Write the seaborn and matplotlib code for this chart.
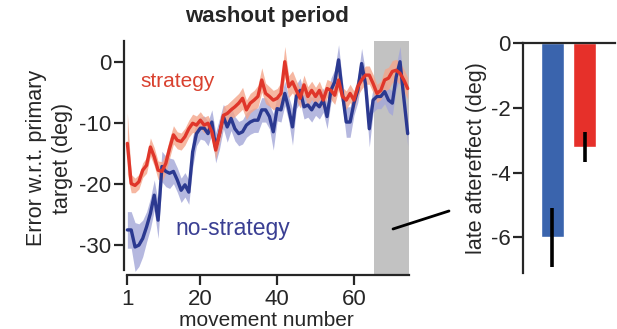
import numpy as np
import matplotlib
matplotlib.use("Agg")
from matplotlib import pyplot as plt
from matplotlib.lines import Line2D
import seaborn as sns

# washout period, mean error per movement (deg)
movement = list(range(1, 75))
strategy_mean = [-13.4, -20.0, -20.3, -19.7, -17.8, -17.0, -14.0, -15.6, -17.8, -18.0,
                 -16.7, -14.2, -12.0, -12.9, -13.1, -12.3, -11.0, -10.1, -10.4, -9.6,
                 -10.4, -10.1, -11.5, -14.5, -11.8, -8.8, -8.5, -7.9, -7.4, -6.8,
                 -6.0, -7.9, -6.8, -6.3, -5.7, -3.0, -5.2, -5.7, -6.3, -6.0,
                 -5.2, 0.0, -4.1, -3.3, -4.7, -6.0, -3.8, -5.7, -4.7, -5.7,
                 -4.7, -6.3, -4.4, -4.7, -5.5, -3.0, -5.7, -6.3, -5.2, -6.3,
                 -4.1, -3.0, -2.2, -2.2, -3.6, -5.2, -4.7, -3.0, -2.7, -1.6,
                 -1.4, -1.9, -3.0, -4.4]
strategy_sem = [5.0, 1.5, 1.2, 1.2, 1.2, 1.3, 1.5, 1.5, 1.5, 1.6,
                1.6, 1.6, 1.5, 1.4, 1.4, 1.4, 1.4, 1.5, 1.5, 1.4,
                1.3, 1.3, 1.3, 1.5, 1.5, 1.5, 1.5, 1.5, 1.6, 1.6,
                1.8, 1.6, 1.6, 1.6, 1.8, 2.0, 1.7, 1.6, 1.6, 1.6,
                1.8, 2.5, 1.8, 1.8, 1.6, 1.6, 1.6, 1.6, 1.5, 1.5,
                1.5, 1.5, 1.5, 1.5, 1.5, 1.6, 1.5, 1.5, 1.5, 1.5,
                1.5, 1.5, 1.5, 1.5, 1.5, 1.5, 1.5, 1.8, 1.8, 1.8,
                1.8, 1.8, 1.8, 1.8]
nostrat_mean = [-27.6, -27.6, -30.4, -30.1, -29.0, -27.1, -24.9, -21.9, -26.0, -17.2,
                -18.0, -18.3, -18.0, -19.4, -21.1, -20.2, -21.4, -14.8, -11.8, -10.9,
                -10.9, -11.8, -9.9, -14.1, -11.8, -9.0, -10.7, -9.3, -11.0, -11.8,
                -11.5, -10.4, -9.9, -9.6, -9.6, -7.9, -7.9, -9.0, -11.5, -7.7,
                -7.9, -5.2, -7.7, -10.7, -5.7, -4.7, -7.4, -7.1, -7.9, -6.8,
                -7.4, -6.3, -9.0, -4.7, -3.3, 0.3, -5.2, -9.9, -9.9, -6.8,
                -4.7, -0.3, -3.6, -11.0, -6.3, -5.7, -5.7, -4.9, -6.3, -6.8,
                -2.5, 0.0, -6.0, -11.8]
nostrat_sem = [3.0, 3.0, 4.0, 3.5, 3.0, 2.5, 2.5, 2.5, 3.0, 2.5,
               2.5, 2.5, 2.0, 2.0, 2.0, 2.0, 2.0, 2.5, 2.0, 1.8,
               2.0, 2.0, 2.0, 2.5, 2.5, 2.0, 2.5, 2.0, 2.0, 2.0,
               2.0, 2.0, 2.0, 2.0, 2.0, 2.0, 2.0, 2.0, 3.0, 2.0,
               2.0, 2.0, 2.0, 3.0, 2.0, 2.0, 2.0, 2.0, 2.0, 2.0,
               2.0, 2.0, 2.0, 2.0, 2.0, 2.5, 2.0, 2.5, 2.5, 2.0,
               2.0, 2.5, 2.0, 3.0, 2.0, 2.0, 2.0, 2.0, 2.0, 2.0,
               2.0, 2.5, 2.0, 2.0]

# late aftereffect bars
groups = ["no-strategy", "strategy"]
late_mean = [-6.0, -3.2]
late_sem = [0.9, 0.46]

red = "#e0362a"
red_band = "#f4a58a"
blue = "#2b3990"
blue_band = "#a3a6d8"

sns.set_style("ticks")
plt.rcParams["font.family"] = ["Liberation Sans", "DejaVu Sans"]
plt.rcParams["axes.unicode_minus"] = False

fig = plt.figure(figsize=(6.17, 3.29), dpi=100)
ax = fig.add_axes([0.2002, 0.1641, 0.4643, 0.7113])
ax2 = fig.add_axes([0.8477, 0.1702, 0.149, 0.698])

x = np.array(movement)
ax.axvspan(65.2, 74.4, color="#c2c2c2", lw=0, zorder=0)
ax.fill_between(x, np.array(nostrat_mean) - nostrat_sem, np.array(nostrat_mean) + nostrat_sem,
                color=blue_band, alpha=0.8, lw=0, zorder=1)
ax.fill_between(x, np.array(strategy_mean) - strategy_sem, np.array(strategy_mean) + strategy_sem,
                color=red_band, alpha=0.8, lw=0, zorder=1)
sns.lineplot(x=x, y=nostrat_mean, color=blue, lw=2.4, ax=ax, zorder=2)
sns.lineplot(x=x, y=strategy_mean, color=red, lw=2.4, ax=ax, zorder=3)

ax.set_xlim(0, 74.6)
ax.set_ylim(-35.0, 3.4)
ax.set_xticks([1, 20, 40, 60])
ax.set_yticks([0, -10, -20, -30])
ax.spines["top"].set_visible(False)
ax.spines["right"].set_visible(False)
ax.spines["bottom"].set_bounds(1, 74.4)
ax.spines["left"].set_bounds(-34.2, 3.4)
for s in ["left", "bottom"]:
    ax.spines[s].set_linewidth(1.6)
ax.tick_params(labelsize=16, width=1.6, length=7)
ax.tick_params(axis="x", pad=3)
ax.tick_params(axis="y", pad=2)
ax.set_xlabel("movement number", fontsize=15, labelpad=1)
ax.set_ylabel("Error w.r.t. primary\ntarget (deg)", fontsize=15.5, linespacing=1.3, labelpad=4)
ax.set_title("washout period", fontsize=16, fontweight="bold", pad=14)
ax.text(14.2, -3.2, "strategy", color="#d9412f", fontsize=15, ha="center", va="center")
ax.text(28.5, -27.3, "no-strategy", color="#3a3f93", fontsize=16.5, ha="center", va="center")

# bar panel
sns.barplot(x=groups, y=late_mean, hue=groups, palette=["#3a64ad", "#e6302a"],
            saturation=1, width=0.71, errorbar=None, legend=False, ax=ax2, zorder=1)
ax2.errorbar([0, 1], late_mean, yerr=late_sem, fmt="none", ecolor="black",
             elinewidth=2.6, capsize=0, zorder=3)
ax2.set_xlim(-0.914, 1.943)
ax2.set_ylim(-7.1, 0)
ax2.set_yticks([0, -2, -4, -6])
ax2.set_xticks([])
ax2.set_xlabel("")
ax2.spines["bottom"].set_visible(False)
ax2.spines["right"].set_visible(False)
ax2.spines["top"].set_linewidth(1.6)
ax2.spines["left"].set_linewidth(1.6)
ax2.tick_params(labelsize=16, width=1.6, length=7, pad=2)
ax2.set_ylabel("late aftereffect (deg)", fontsize=15.5, labelpad=3)

fig.add_artist(Line2D([0.637, 0.7277], [0.304, 0.3587], color="black", lw=2,
                      transform=fig.transFigure))

fig.savefig("out.png", dpi=100)
